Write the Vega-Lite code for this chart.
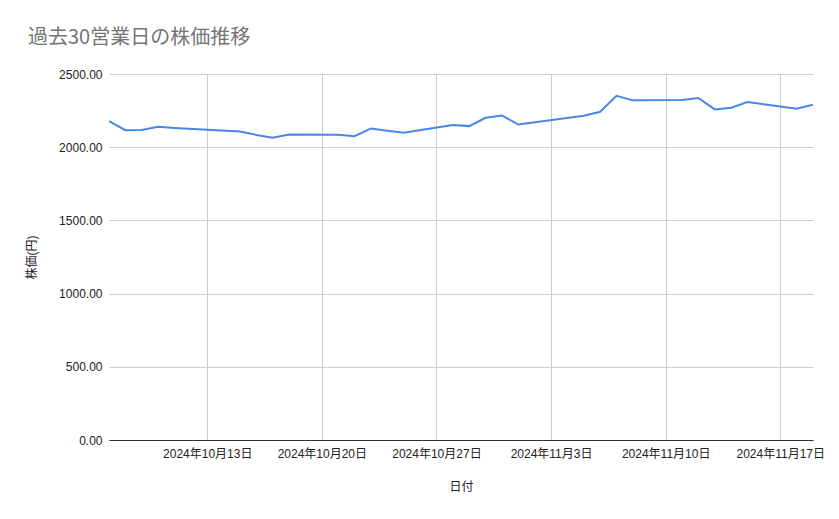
{
  "$schema": "https://vega.github.io/schema/vega-lite/v6.json",
  "width": 704,
  "height": 366,
  "autosize": {"type": "none"},
  "padding": {"left": 109, "top": 74, "right": 26, "bottom": 79},
  "background": "white",
  "title": {
    "text": "過去30営業日の株価推移",
    "anchor": "start",
    "frame": "group",
    "dx": -81,
    "offset": 20,
    "font": "Noto Sans CJK JP",
    "fontSize": 20,
    "fontWeight": "normal",
    "color": "#757575"
  },
  "config": {
    "view": {"stroke": null},
    "font": "Liberation Sans, Noto Sans CJK JP"
  },
  "data": {
    "values": [
      {"date": "2024-10-07", "price": 2178},
      {"date": "2024-10-08", "price": 2116},
      {"date": "2024-10-09", "price": 2118},
      {"date": "2024-10-10", "price": 2139},
      {"date": "2024-10-11", "price": 2131},
      {"date": "2024-10-15", "price": 2107},
      {"date": "2024-10-16", "price": 2084},
      {"date": "2024-10-17", "price": 2064},
      {"date": "2024-10-18", "price": 2086},
      {"date": "2024-10-21", "price": 2085},
      {"date": "2024-10-22", "price": 2075},
      {"date": "2024-10-23", "price": 2128},
      {"date": "2024-10-24", "price": 2112},
      {"date": "2024-10-25", "price": 2098},
      {"date": "2024-10-28", "price": 2151},
      {"date": "2024-10-29", "price": 2144},
      {"date": "2024-10-30", "price": 2201},
      {"date": "2024-10-31", "price": 2217},
      {"date": "2024-11-01", "price": 2155},
      {"date": "2024-11-05", "price": 2215},
      {"date": "2024-11-06", "price": 2242},
      {"date": "2024-11-07", "price": 2351},
      {"date": "2024-11-08", "price": 2320},
      {"date": "2024-11-11", "price": 2322},
      {"date": "2024-11-12", "price": 2336},
      {"date": "2024-11-13", "price": 2258},
      {"date": "2024-11-14", "price": 2269},
      {"date": "2024-11-15", "price": 2308},
      {"date": "2024-11-18", "price": 2263},
      {"date": "2024-11-19", "price": 2290}
    ]
  },
  "mark": {"type": "line", "color": "#4a86e8", "strokeWidth": 2, "clip": true},
  "encoding": {
    "x": {
      "field": "date",
      "type": "temporal",
      "title": "日付",
      "scale": {"type": "utc", "domain": [{"year": 2024, "month": 10, "date": 7, "utc": true}, {"year": 2024, "month": 11, "date": 19, "utc": true}], "nice": false},
      "axis": {
        "values": [
          {"year": 2024, "month": 10, "date": 13, "utc": true},
          {"year": 2024, "month": 10, "date": 20, "utc": true},
          {"year": 2024, "month": 10, "date": 27, "utc": true},
          {"year": 2024, "month": 11, "date": 3, "utc": true},
          {"year": 2024, "month": 11, "date": 10, "utc": true},
          {"year": 2024, "month": 11, "date": 17, "utc": true}
        ],
        "labelExpr": "utcFormat(datum.value, '%Y年%-m月%-d日')",
        "grid": true,
        "gridColor": "#cccccc",
        "gridWidth": 1,
        "ticks": false,
        "domainColor": "#333333",
        "domainWidth": 1,
        "labelFontSize": 12,
        "labelColor": "#222222",
        "labelPadding": 8,
        "labelFlush": false,
        "labelOverlap": false,
        "titleFontSize": 12,
        "titleFontWeight": "normal",
        "titleColor": "#222222",
        "titlePadding": 22
      }
    },
    "y": {
      "field": "price",
      "type": "quantitative",
      "title": "株価(円)",
      "scale": {"domain": [0, 2500], "nice": false},
      "axis": {
        "values": [0, 500, 1000, 1500, 2000, 2500],
        "format": ".2f",
        "grid": true,
        "gridColor": "#cccccc",
        "gridWidth": 1,
        "ticks": false,
        "domain": false,
        "labelFontSize": 12,
        "labelColor": "#222222",
        "labelPadding": 7,
        "titleFontSize": 12,
        "titleFontWeight": "normal",
        "titleColor": "#222222",
        "titlePadding": 20
      }
    }
  }
}
